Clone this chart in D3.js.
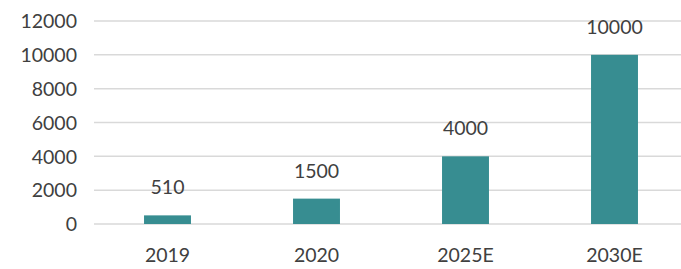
<!DOCTYPE html>
<html>
<head>
<meta charset="utf-8">
<script src="https://cdn.jsdelivr.net/npm/d3@7"></script>
<style>
  body { margin: 0; background: #fff; }
  text { font-family: Lato, "Open Sans", sans-serif; fill: #404040; }
</style>
</head>
<body>
<script>
var years = ["2019", "2020", "2025E", "2030E"];
var values = [510, 1500, 4000, 10000];
var yTicks = [0, 2000, 4000, 6000, 8000, 10000, 12000];

var W = 681, H = 269;
var fs = "19.5px";
var svg = d3.select("body").append("svg").attr("width", W).attr("height", H);

var x = d3.scaleBand().domain(years).range([93, 689]).paddingInner(0.685).paddingOuter(0.3425);
var y = d3.scaleLinear().domain([0, 12000]).range([224, 21]);

// y axis labels, no commas
var yAxis = d3.axisLeft(y).tickValues(yTicks).tickFormat(d3.format("d")).tickSize(0).tickPadding(0);
var gy = svg.append("g").attr("transform", "translate(77,0)").call(yAxis);
gy.select(".domain").remove();
gy.selectAll("text").style("font-size", fs).attr("dy", "0.35em").attr("fill", "#404040");

// gridlines
svg.append("g").selectAll("line").data(yTicks).join("line")
  .attr("x1", 94).attr("x2", 681)
  .attr("y1", function (d) { return y(d); }).attr("y2", function (d) { return y(d); })
  .attr("stroke", "#d9d9d9").attr("stroke-width", 1.5);

svg.append("g").selectAll("rect").data(values).join("rect")
  .attr("x", function (d, i) { return x(years[i]); })
  .attr("width", x.bandwidth())
  .attr("y", function (d) { return y(d); })
  .attr("height", function (d) { return y(0) - y(d); })
  .attr("fill", "#378d91");

svg.append("g").selectAll("text").data(values).join("text")
  .attr("x", function (d, i) { return x(years[i]) + x.bandwidth() / 2; })
  .attr("y", function (d) { return y(d) - 21; })
  .attr("text-anchor", "middle")
  .style("font-size", fs)
  .text(function (d) { return d; });

var xAxis = d3.axisBottom(x).tickSize(0).tickPadding(0);
var gx = svg.append("g").attr("transform", "translate(0,248)").call(xAxis);
gx.select(".domain").remove();
gx.selectAll("text").style("font-size", fs).attr("dy", "0.72em").attr("fill", "#404040");
</script>
</body>
</html>
